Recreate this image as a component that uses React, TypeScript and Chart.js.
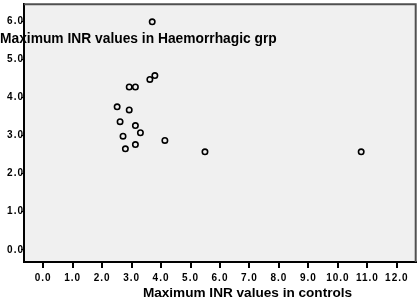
import React, { useEffect, useRef } from "react";
import { Chart, registerables } from "chart.js";

Chart.register(...registerables);

const controlsINR = [3.70, 3.79, 3.62, 2.92, 3.13, 2.51, 2.92, 2.61, 3.13, 3.30, 2.71, 4.13, 3.13, 2.79, 5.49, 10.79];
const haemINR = [5.98, 4.57, 4.47, 4.27, 4.27, 3.75, 3.67, 3.36, 3.26, 3.07, 2.98, 2.87, 2.76, 2.65, 2.57, 2.57];
const xTicks = [0, 1, 2, 3, 4, 5, 6, 7, 8, 9, 10, 11, 12];
const yTicks = [0, 1, 2, 3, 4, 5, 6];
const xTitle = "Maximum INR values in controls";
const yTitle = "Maximum INR values in Haemorrhagic grp";

const FONT = "'Liberation Sans', Arial, Helvetica, sans-serif";

const framePlugin = {
  id: "frame",
  beforeDraw(chart: any) {
    const { ctx, chartArea } = chart;
    ctx.save();
    ctx.fillStyle = "#ffffff";
    ctx.fillRect(0, 0, chart.width, chart.height);
    ctx.fillStyle = "#f0f0f0";
    ctx.fillRect(chartArea.left, chartArea.top, chartArea.right - chartArea.left, chartArea.bottom - chartArea.top);
    ctx.restore();
    (ctx as any).letterSpacing = "1px";
  },
  afterDraw(chart: any) {
    const { ctx, chartArea } = chart;
    ctx.save();
    (ctx as any).letterSpacing = "0px";
    ctx.strokeStyle = "#505050";
    ctx.lineWidth = 2;
    ctx.beginPath();
    ctx.moveTo(chartArea.left, chartArea.top);
    ctx.lineTo(chartArea.right, chartArea.top);
    ctx.lineTo(chartArea.right, chartArea.bottom);
    ctx.stroke();
    ctx.fillStyle = "#000000";
    ctx.textBaseline = "alphabetic";
    ctx.font = `bold 13.8px ${FONT}`;
    ctx.textAlign = "left";
    ctx.fillText(yTitle, 0, 43);
    ctx.font = `bold 13.6px ${FONT}`;
    ctx.textAlign = "center";
    ctx.fillText(xTitle, 247.5, 297);
    ctx.restore();
  },
};

export default function App() {
  const ref = useRef<HTMLCanvasElement | null>(null);
  useEffect(() => {
    document.body.style.margin = "0";
    const canvas = ref.current;
    if (!canvas) return;
    const data = controlsINR.map((x, i) => ({ x, y: haemINR[i] }));
    const chart = new Chart(canvas, {
      type: "scatter",
      data: {
        datasets: [
          {
            data,
            pointRadius: 2.7,
            pointBorderWidth: 1.6,
            pointBorderColor: "#000000",
            pointBackgroundColor: "rgba(0,0,0,0)",
            pointHoverRadius: 2.7,
          },
        ],
      },
      options: {
        responsive: false,
        animation: false,
        events: [],
        layout: { padding: { top: 1, right: 2, left: 0, bottom: 0 } },
        plugins: { legend: { display: false }, tooltip: { enabled: false }, title: { display: false } },
        scales: {
          x: {
            type: "linear",
            min: -0.65,
            max: 12.64,
            afterBuildTicks: (scale: any) => {
              scale.ticks = xTicks.map((v) => ({ value: v }));
            },
            afterFit: (scale: any) => {
              scale.height = 38;
            },
            border: { display: true, color: "#000000", width: 2 },
            grid: { drawOnChartArea: false, drawTicks: true, tickLength: 6, color: "#000000", lineWidth: 2 },
            ticks: {
              autoSkip: false,
              maxRotation: 0,
              padding: 4,
              color: "#000000",
              font: { family: FONT, size: 10, weight: "bold" },
              callback: (v: any) => Number(v).toFixed(1),
            },
          },
          y: {
            type: "linear",
            min: -0.32,
            max: 6.44,
            afterBuildTicks: (scale: any) => {
              scale.ticks = yTicks.map((v) => ({ value: v }));
            },
            afterFit: (scale: any) => {
              scale.width = 24;
            },
            border: { display: true, color: "#000000", width: 2 },
            grid: { drawOnChartArea: false, drawTicks: true, tickLength: 3, color: "#000000", lineWidth: 1 },
            ticks: {
              autoSkip: false,
              padding: -3,
              color: "#000000",
              font: { family: FONT, size: 10, weight: "bold" },
              callback: (v: any) => Number(v).toFixed(1),
            },
          },
        },
      },
      plugins: [framePlugin],
    } as any);
    return () => chart.destroy();
  }, []);
  return (
    <div style={{ width: 420, height: 300 }}>
      <canvas ref={ref} width={420} height={300} style={{ display: "block", width: 420, height: 300 }} />
    </div>
  );
}
